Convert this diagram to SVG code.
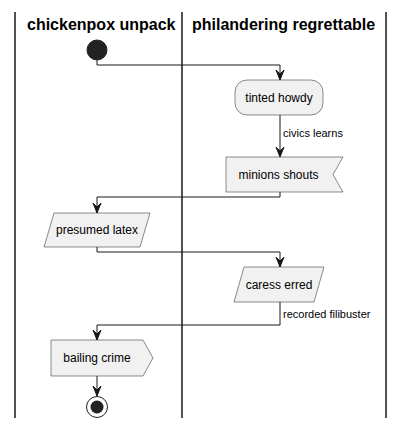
<svg xmlns="http://www.w3.org/2000/svg" width="404" height="429" viewBox="0 0 404 429">
<style>
.lane{stroke:#181818;stroke-width:1.5;fill:none}
.title{font-family:"Liberation Sans",Arial,sans-serif;font-size:16px;font-weight:bold;fill:#000}
.node{fill:#F1F1F1;stroke:#181818;stroke-width:0.5}
.txt{font-family:"Liberation Sans",Arial,sans-serif;font-size:12px;fill:#000;text-anchor:middle}
.lbl{font-family:"Liberation Sans",Arial,sans-serif;font-size:11px;fill:#000}
.edge{stroke:#181818;stroke-width:1;fill:none}
.head{fill:#181818;stroke:#181818;stroke-width:1}
</style>
<rect width="404" height="429" fill="#FFFFFF"/>
<g id="lanes">
<line class="lane" x1="15" y1="12" x2="15" y2="418"/>
<line class="lane" x1="182" y1="12" x2="182" y2="418"/>
<line class="lane" x1="386" y1="12" x2="386" y2="418"/>
<text class="title" x="27" y="30">chickenpox unpack</text>
<text class="title" x="192" y="30">philandering regrettable</text>
</g>
<g id="connectors">
<polyline class="edge" points="97,60 97,65 280,65 280,80"/>
<polygon class="head" points="276,70 280,80 284,70 280,74"/>
<line class="edge" x1="280" y1="115" x2="280" y2="157"/>
<polygon class="head" points="276,147 280,157 284,147 280,151"/>
<text class="lbl" x="283" y="137">civics learns</text>
<polyline class="edge" points="280,192 280,197 97,197 97,213"/>
<polygon class="head" points="93,203 97,213 101,203 97,207"/>
<polyline class="edge" points="97,247 97,252 280,252 280,267"/>
<polygon class="head" points="276,257 280,267 284,257 280,261"/>
<polyline class="edge" points="280,302 280,325 97,325 97,340"/>
<polygon class="head" points="93,330 97,340 101,330 97,334"/>
<text class="lbl" x="283" y="318">recorded filibuster</text>
<line class="edge" x1="97" y1="376" x2="97" y2="396"/>
<polygon class="head" points="93,386 97,396 101,386 97,390"/>
</g>
<g id="start">
<circle cx="97" cy="50" r="10" fill="#222222" stroke="#222222"/>
</g>
<g id="tinted-howdy">
<rect class="node" x="235" y="80" width="88" height="35" rx="12" ry="12"/>
<text class="txt" x="279" y="102">tinted howdy</text>
</g>
<g id="minions-shouts">
<polygon class="node" points="226,157 343,157 333,174.5 343,192 226,192"/>
<text class="txt" x="278.5" y="179">minions shouts</text>
</g>
<g id="presumed-latex">
<polygon class="node" points="54,213 150,213 140,247 44,247"/>
<text class="txt" x="97" y="234">presumed latex</text>
</g>
<g id="caress-erred">
<polygon class="node" points="244,267 324,267 314,302 234,302"/>
<text class="txt" x="279" y="289">caress erred</text>
</g>
<g id="bailing-crime">
<polygon class="node" points="51,340 143,340 153,358 143,376 51,376"/>
<text class="txt" x="97" y="362">bailing crime</text>
</g>
<g id="end">
<circle cx="97" cy="407" r="10.5" fill="none" stroke="#222222" stroke-width="1"/>
<circle cx="97" cy="407" r="6.5" fill="#222222"/>
</g>
</svg>
